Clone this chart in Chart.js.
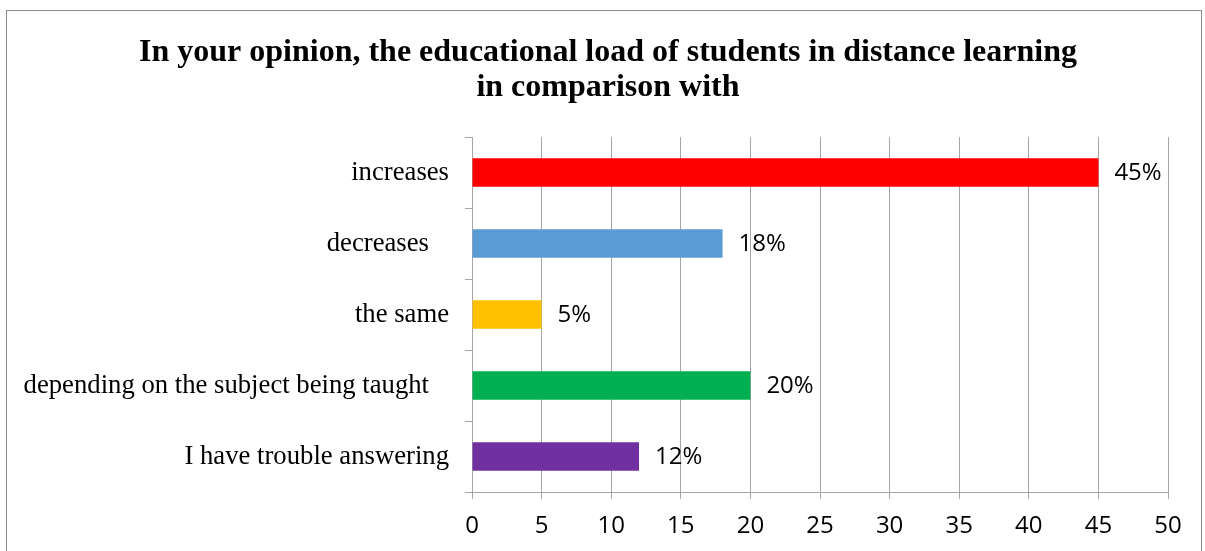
<!DOCTYPE html>
<html>
<head>
<meta charset="utf-8">
<script src="https://cdn.jsdelivr.net/npm/chart.js@4"></script>
<style>
  html, body { margin: 0; padding: 0; background: #fff; }
  #wrap { width: 1205px; height: 551px; }
</style>
</head>
<body>
<div id="wrap"><canvas id="loadChart" width="1205" height="551"></canvas></div>
<script>
// --- data ---
const categories = [
    'increases',
    'decreases   ',
    'the same',
    'depending on the subject being taught   ',
    'I have trouble answering'
];
const shares = [45, 18, 5, 20, 12];
const barColors = ['#FF0000', '#5B9BD5', '#FFC000', '#00B050', '#7030A0'];
const titleLines = [
    'In your opinion, the educational load of students in distance learning',
    'in comparison with'
];
const xMin = 0, xMax = 50, xStep = 5;

const gridGray = '#a6a6a6';
const sansFont = "'Open Sans', Lato, sans-serif";
const serifFont = "'Liberation Serif', 'Times New Roman', serif";

// outer frame + two-line bold heading
const framePlugin = {
    id: 'frame',
    beforeDraw(chart) {
        const ctx = chart.ctx;
        ctx.save();
        ctx.fillStyle = '#fff';
        ctx.fillRect(0, 0, chart.width, chart.height);
        ctx.strokeStyle = '#8c8c8c';
        ctx.lineWidth = 1;
        ctx.strokeRect(6.5, 10.5, 1195, 600);

        ctx.fillStyle = '#000';
        ctx.font = 'bold 32px ' + serifFont;
        ctx.textAlign = 'center';
        ctx.textBaseline = 'alphabetic';
        titleLines.forEach((line, i) => {
            ctx.fillText(line, 608, 61 + i * 34.5);
        });
        ctx.restore();
    }
};

// percentage labels to the right of every bar
const valueLabels = {
    id: 'valueLabels',
    afterDatasetsDraw(chart) {
        const ctx = chart.ctx;
        const meta = chart.getDatasetMeta(0);
        ctx.save();
        ctx.font = '24px ' + sansFont;
        ctx.fillStyle = '#000';
        ctx.textAlign = 'left';
        ctx.textBaseline = 'middle';
        meta.data.forEach((bar, i) => {
            ctx.fillText(shares[i] + '%', bar.x + 16, bar.y + 1);
        });
        ctx.restore();
    }
};

new Chart(document.getElementById('loadChart'), {
    type: 'bar',
    data: {
        labels: categories,
        datasets: [{
            data: shares,
            backgroundColor: barColors,
            borderWidth: 0,
            barPercentage: 0.4,
            categoryPercentage: 1
        }]
    },
    options: {
        indexAxis: 'y',
        responsive: false,
        animation: false,
        layout: { padding: { left: 0, right: 37, top: 137, bottom: 0 } },
        plugins: {
            legend: { display: false },
            tooltip: { enabled: false },
            title: { display: false }
        },
        scales: {
            x: {
                min: xMin,
                max: xMax,
                ticks: {
                    stepSize: xStep,
                    color: '#000',
                    font: { family: sansFont, size: 24 },
                    padding: 13
                },
                grid: {
                    color: gridGray,
                    lineWidth: 1,
                    tickLength: 7,
                    drawTicks: true
                },
                border: { display: true, color: gridGray, width: 1 },
                afterFit(scale) { scale.height = 59; }
            },
            y: {
                ticks: {
                    color: '#000',
                    font: { family: serifFont, size: 26.7 },
                    padding: 16
                },
                grid: {
                    offset: true,
                    drawOnChartArea: false,
                    drawTicks: true,
                    tickLength: 7,
                    color: gridGray
                },
                border: { display: true, color: gridGray, width: 1 },
                afterFit(scale) { scale.width = 472; }
            }
        }
    },
    plugins: [framePlugin, valueLabels]
});
</script>
</body>
</html>
